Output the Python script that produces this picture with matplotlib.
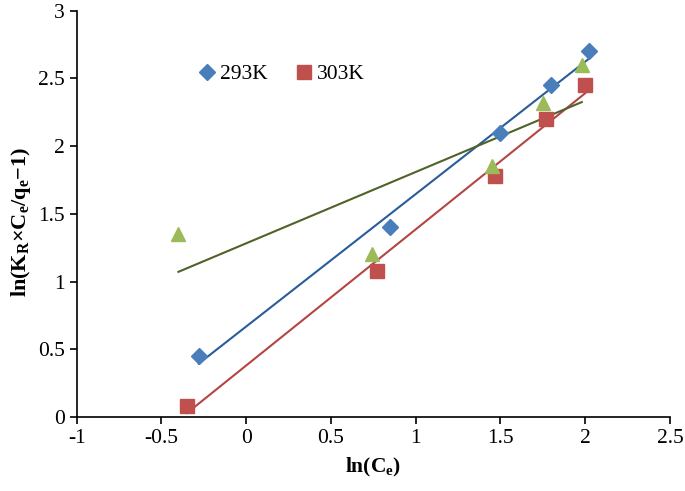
import matplotlib
matplotlib.use('agg')
import matplotlib.pyplot as plt
import numpy as np

plt.rcParams['font.family'] = ['Liberation Serif', 'DejaVu Serif']
plt.rcParams['mathtext.fontset'] = 'custom'
plt.rcParams['mathtext.rm'] = 'Liberation Serif'
plt.rcParams['mathtext.bf'] = 'Liberation Serif:bold'
plt.rcParams['mathtext.it'] = 'Liberation Serif:italic'

# data
x_293 = [-0.28, 0.85, 1.50, 1.80, 2.02]
y_293 = [0.45, 1.40, 2.10, 2.45, 2.70]
x_303 = [-0.35, 0.77, 1.47, 1.77, 2.00]
y_303 = [0.08, 1.08, 1.78, 2.20, 2.45]
x_313 = [-0.40, 0.74, 1.45, 1.75, 1.98]
y_313 = [1.35, 1.20, 1.85, 2.32, 2.60]

fig = plt.figure(figsize=(6.85, 4.91), dpi=100)
ax = fig.add_axes([0.112, 0.151, 0.866, 0.827])

def trend(x, y, color):
    k, b = np.polyfit(x, y, 1)
    xs = np.array([min(x), max(x)])
    ax.plot(xs, k * xs + b, color=color, lw=1.5, zorder=2)

trend(x_293, y_293, '#2A5C9A')
trend(x_303, y_303, '#B54542')
trend(x_313, y_313, '#4F6228')

ax.plot(x_293, y_293, 'D', color='#4A7EBB', ms=8, mec='#4A7EBB', label='293K', zorder=3)
ax.plot(x_303, y_303, 's', color='#C0504D', ms=10, mec='#C0504D', label='303K', zorder=3)
ax.plot(x_313, y_313, '^', color='#9BBB59', ms=10, mec='#9BBB59', zorder=3)

ax.set_xlim(-1, 2.5)
ax.set_ylim(0, 3)
ax.set_xticks(np.arange(-1, 2.51, 0.5))
ax.set_yticks(np.arange(0, 3.01, 0.5))
ax.set_xticklabels(['-1', '-0.5', '0', '0.5', '1', '1.5', '2', '2.5'])
ax.set_yticklabels(['0', '0.5', '1', '1.5', '2', '2.5', '3'])
ax.tick_params(labelsize=15.5, length=5, width=1.2, direction='out', color='black')
ax.spines['top'].set_visible(False)
ax.spines['right'].set_visible(False)
ax.spines['left'].set_linewidth(1.2)
ax.spines['bottom'].set_linewidth(1.2)

ax.set_xlabel(r'$\mathbf{ln(C_e)}$', fontsize=15.5, labelpad=6)
ax.set_ylabel(r'$\mathbf{ln(K_R{\times}C_e/q_e{-}1)}$', fontsize=16)
ax.yaxis.set_label_coords(-0.074, 0.48)

ax.legend(loc='upper left', bbox_to_anchor=(0.183, 0.895), ncol=2, frameon=False,
          fontsize=15.5, handletextpad=0.1, columnspacing=1.2, handlelength=1.0,
          borderpad=0)

fig.savefig('out.png', dpi=100)
